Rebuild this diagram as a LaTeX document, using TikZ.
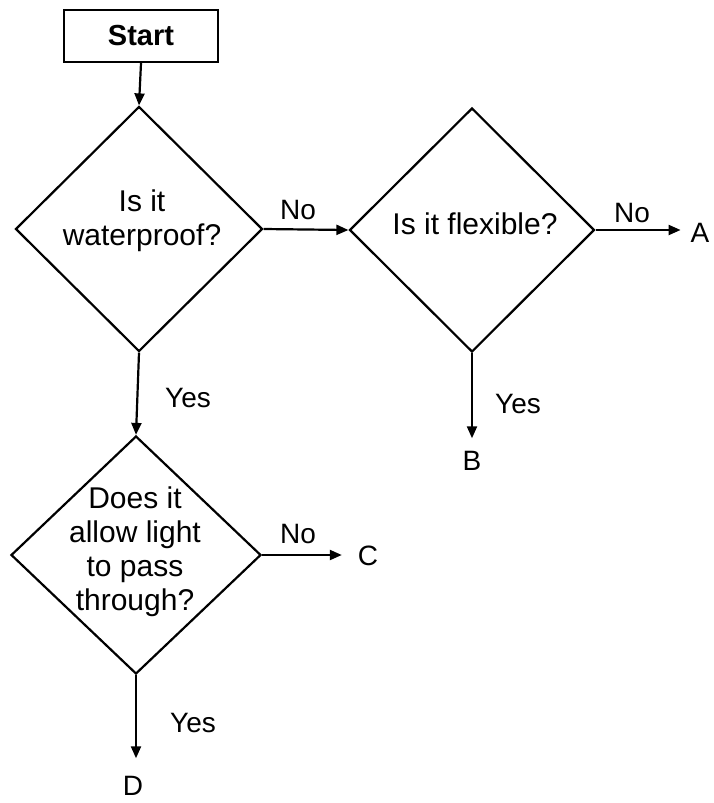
\documentclass[tikz,border=0pt]{standalone}
\usepackage{fontspec}
\setmainfont{Liberation Sans}
\usetikzlibrary{shapes.geometric,arrows.meta}
\begin{document}
\begin{tikzpicture}[x=1pt,y=-1pt,
  line width=2.2pt,
  startbox/.style={draw, minimum width=154pt, minimum height=52pt, inner sep=0pt, font=\fontsize{29}{32}\selectfont\bfseries},
  dia/.style={draw, diamond, inner sep=0pt, aspect=1},
  qtext/.style={align=center, inner sep=0pt, font=\fontsize{30}{34}\selectfont},
  lbl/.style={inner sep=0pt, font=\fontsize{28}{30}\selectfont},
  endpt/.style={inner sep=0pt, font=\fontsize{28}{30}\selectfont},
  arr/.style={-{Triangle[length=12pt,width=10pt]}}]
\useasboundingbox (0,0) rectangle (714,803);

% start
\node[startbox] (s) at (141,36) {Start};

% diamonds
\node[dia, minimum width=247pt, minimum height=245pt] (d1) at (139,229) {};
\node[qtext] (t1) at (142,221) {Is it\\waterproof?};

\node[dia, minimum width=245pt, minimum height=244pt] (d2) at (472,230) {};
\node[qtext] (t2) at (475,224) {Is it flexible?};

\node[dia, minimum width=250pt, minimum height=238pt] (d3) at (136,555) {};
\node[qtext] (t3) at (135,552) {Does it\\allow light\\to pass\\through?};

% end letters
\node[endpt] (A) at (700,233) {A};
\node[endpt] (B) at (472,461) {B};
\node[endpt] (C) at (368,556) {C};
\node[endpt] (D) at (133,786) {D};

\coordinate (aEnd) at ([xshift=-9pt]A.west);
\coordinate (bEnd) at ([yshift=12pt]B.north);
\coordinate (cEnd) at ([xshift=-15pt]C.west);
\coordinate (dEnd) at ([yshift=17pt]D.north);

% connectors
\draw[arr] (s.south) -- (d1.north);
\draw[arr] (d1.east) -- (d2.west);
\draw[arr] (d2.east) -- (d2.east -| aEnd);
\draw[arr] (d2.south) -- (d2.south |- bEnd);
\draw[arr] (d1.south) -- (d3.north);
\draw[arr] (d3.east) -- (d3.east -| cEnd);
\draw[arr] (d3.south) -- (d3.south |- dEnd);

% labels
\node[lbl] (n1) at (298,210) {No};
\node[lbl] (n2) at (632,213) {No};
\node[lbl] (y2) at (518,404) {Yes};
\node[lbl] (y1) at (188,398) {Yes};
\node[lbl] (n3) at (298,534) {No};
\node[lbl] (y3) at (193,723) {Yes};
\end{tikzpicture}
\end{document}
